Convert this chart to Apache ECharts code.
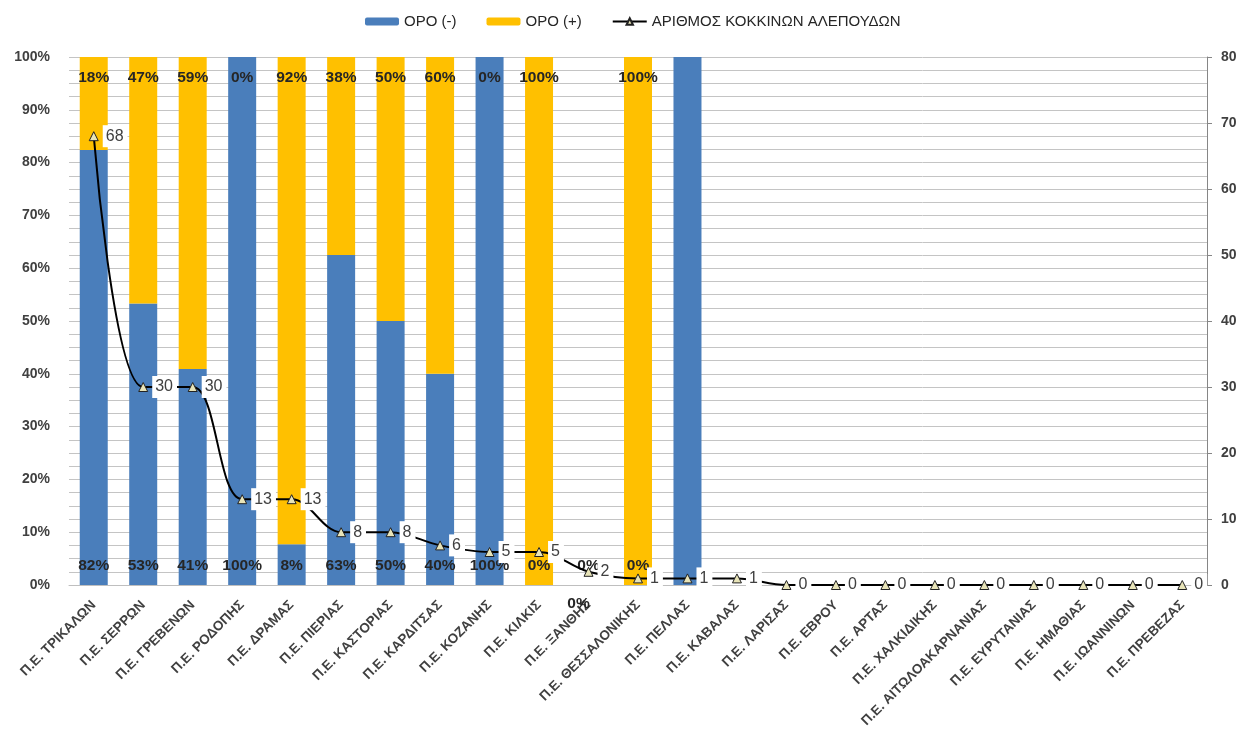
<!DOCTYPE html>
<html>
<head>
<meta charset="utf-8">
<script src="https://cdn.jsdelivr.net/npm/echarts@6/dist/echarts.min.js"></script>
<style>
  html, body { margin: 0; padding: 0; background: #fff; }
  #chart { width: 1242px; height: 740px; }
</style>
</head>
<body>
<div id="chart"></div>
<script>
const categories = [
  'Π.Ε. ΤΡΙΚΑΛΩΝ', 'Π.Ε. ΣΕΡΡΩΝ', 'Π.Ε. ΓΡΕΒΕΝΩΝ', 'Π.Ε. ΡΟΔΟΠΗΣ', 'Π.Ε. ΔΡΑΜΑΣ',
  'Π.Ε. ΠΙΕΡΙΑΣ', 'Π.Ε. ΚΑΣΤΟΡΙΑΣ', 'Π.Ε. ΚΑΡΔΙΤΣΑΣ', 'Π.Ε. ΚΟΖΑΝΗΣ', 'Π.Ε. ΚΙΛΚΙΣ',
  'Π.Ε. ΞΑΝΘΗΣ', 'Π.Ε. ΘΕΣΣΑΛΟΝΙΚΗΣ', 'Π.Ε. ΠΕΛΛΑΣ', 'Π.Ε. ΚΑΒΑΛΑΣ', 'Π.Ε. ΛΑΡΙΣΑΣ',
  'Π.Ε. ΕΒΡΟΥ', 'Π.Ε. ΑΡΤΑΣ', 'Π.Ε. ΧΑΛΚΙΔΙΚΗΣ', 'Π.Ε. ΑΙΤΩΛΟΑΚΑΡΝΑΝΙΑΣ', 'Π.Ε. ΕΥΡΥΤΑΝΙΑΣ',
  'Π.Ε. ΗΜΑΘΙΑΣ', 'Π.Ε. ΙΩΑΝΝΙΝΩΝ', 'Π.Ε. ΠΡΕΒΕΖΑΣ'
];

// % negative / positive per area (null = no bar)
const negative = [82.4, 53.3, 40.9, 100, 7.7, 62.5, 50, 40, 100, 0, 0, 0, 100,
  null, null, null, null, null, null, null, null, null, null];
const positive = [17.6, 46.7, 59.1, 0, 92.3, 37.5, 50, 60, 0, 100, 0, 100, 0,
  null, null, null, null, null, null, null, null, null, null];

// number of red foxes
const foxes = [68, 30, 30, 13, 13, 8, 8, 6, 5, 5, 2, 1, 1, 1, 0, 0, 0, 0, 0, 0, 0, 0, 0];

// areas whose bar labels are not shown
const noLabel = ['Π.Ε. ΠΕΛΛΑΣ'];

const FONT = 'Liberation Sans';
const pct = p => Math.round(p.value) + '%';

const negData = negative.map((v, i) => {
  if (noLabel.includes(categories[i])) return { value: v, label: { show: false } };
  return v;
});
const posData = positive.map((v, i) => {
  if (noLabel.includes(categories[i])) return { value: v, label: { show: false } };
  // empty area: Excel drops the top label below the axis
  if (v === 0 && negative[i] === 0) return { value: v, label: { position: 'insideBottom', distance: 0, offset: [-10, 27] } };
  return v;
});

const chart = echarts.init(document.getElementById('chart'));
chart.setOption({
  animation: false,
  textStyle: { fontFamily: FONT },
  legend: {
    top: 9,
    left: 360,
    itemWidth: 34,
    itemHeight: 8,
    itemGap: 30,
    textStyle: { fontSize: 15, color: '#262626', fontFamily: FONT },
    data: ['ΟΡΟ (-)', 'ΟΡΟ (+)', 'ΑΡΙΘΜΟΣ ΚΟΚΚΙΝΩΝ ΑΛΕΠΟΥΔΩΝ']
  },
  grid: { left: 69, right: 35, top: 57, bottom: 155 },
  xAxis: {
    type: 'category',
    data: categories,
    axisTick: { show: false },
    axisLine: { lineStyle: { color: '#bfbfbf' } },
    axisLabel: { rotate: 45, interval: 0, fontSize: 13.5, fontWeight: 'bold', color: '#404040', margin: 18 }
  },
  yAxis: [
    {
      type: 'value',
      min: 0,
      max: 100,
      interval: 10,
      axisLine: { show: false },
      axisTick: { show: false },
      axisLabel: { formatter: '{value}%', fontSize: 14, fontWeight: 'bold', color: '#404040', margin: 19 },
      splitLine: { lineStyle: { color: '#c4c4c4' } },
      minorTick: { show: false, splitNumber: 4 },
      minorSplitLine: { show: true, lineStyle: { color: '#c4c4c4' } }
    },
    {
      type: 'value',
      min: 0,
      max: 80,
      interval: 10,
      position: 'right',
      axisLine: { show: true, lineStyle: { color: '#868686' } },
      axisTick: { show: true, length: 5, lineStyle: { color: '#868686' } },
      axisLabel: { fontSize: 14, fontWeight: 'bold', color: '#404040', margin: 14 },
      splitLine: { show: false }
    }
  ],
  series: [
    {
      name: 'ΟΡΟ (-)',
      type: 'bar',
      stack: 'oro',
      barWidth: 28,
      itemStyle: { color: '#4a7ebb' },
      label: { show: true, position: 'insideBottom', distance: 11, formatter: pct, fontSize: 15.5, fontWeight: 'bold', color: '#262626' },
      data: negData
    },
    {
      name: 'ΟΡΟ (+)',
      type: 'bar',
      stack: 'oro',
      barWidth: 28,
      itemStyle: { color: '#ffc000' },
      label: { show: true, position: 'insideTop', distance: 13, formatter: pct, fontSize: 15.5, fontWeight: 'bold', color: '#262626' },
      data: posData
    },
    {
      name: 'ΑΡΙΘΜΟΣ ΚΟΚΚΙΝΩΝ ΑΛΕΠΟΥΔΩΝ',
      type: 'line',
      yAxisIndex: 1,
      smooth: 0.35,
      symbol: 'triangle',
      symbolSize: 9,
      lineStyle: { color: '#000', width: 2 },
      itemStyle: { color: '#e8e4b8', borderColor: '#222', borderWidth: 1 },
      label: {
        show: true,
        position: 'right',
        distance: 4,
        backgroundColor: '#fff',
        padding: [3, 4, 3, 3],
        fontSize: 16,
        color: '#404040'
      },
      data: foxes
    }
  ]
});
</script>
</body>
</html>
